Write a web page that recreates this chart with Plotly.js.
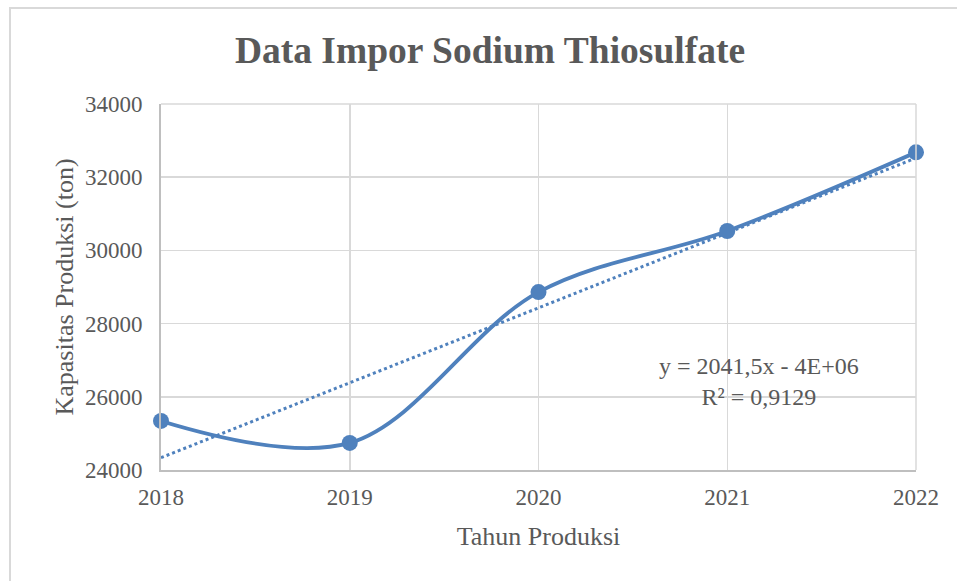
<!DOCTYPE html>
<html>
<head>
<meta charset="utf-8">
<script src="https://cdn.plot.ly/plotly-3.0.1.min.js"></script>
<style>
html,body{margin:0;padding:0;background:#fff;}
#wrap{position:relative;width:957px;height:581px;overflow:hidden;}
#chart{width:957px;height:581px;}
#frame{position:absolute;left:9px;top:7px;width:1000px;height:700px;border:2px solid #d9d9d9;pointer-events:none;box-sizing:border-box;}
</style>
</head>
<body>
<div id="wrap"><div id="chart"></div><div id="frame"></div></div>
<script>
const years = [2018, 2019, 2020, 2021, 2022];
const kapasitas = [25340, 24740, 28860, 30530, 32680];
const chartTitle = 'Data Impor Sodium Thiosulfate';
const xTitle = 'Tahun Produksi';
const yTitle = 'Kapasitas Produksi (ton)';
const eqText = 'y = 2041,5x - 4E+06<br>R² = 0,9129';

// linear trend from the data
const n = years.length;
const mx = years.reduce((a,b)=>a+b,0)/n;
const my = kapasitas.reduce((a,b)=>a+b,0)/n;
let sxy=0, sxx=0;
for (let i=0;i<n;i++){ sxy+=(years[i]-mx)*(kapasitas[i]-my); sxx+=(years[i]-mx)**2; }
const slope = sxy/sxx, icpt = my - slope*mx;
const trendX = [years[0], years[n-1]];
const trendY = trendX.map(x=>icpt+slope*x);

const blue = '#4f81bd';
const font = 'Liberation Serif, Times New Roman, serif';
const grey = '#595959';

const data = [
  {x: trendX, y: trendY, mode:'lines', line:{color:blue, width:3, dash:'dot'}, hoverinfo:'skip', cliponaxis:false},
  {x: years, y: kapasitas, mode:'lines+markers', line:{color:blue, width:3.8, shape:'spline', smoothing:1}, marker:{color:blue, size:16}, cliponaxis:false}
];

const layout = {
  width:957, height:581,
  margin:{l:161, r:41, t:104, b:111},
  paper_bgcolor:'rgba(0,0,0,0)', plot_bgcolor:'#fff',
  showlegend:false,
  font:{family:font, color:grey, size:23},
  title:{text:'<b>'+chartTitle+'</b>', font:{family:font, size:37.5, color:grey}, x:0.512, xanchor:'center', y:0.914, yanchor:'middle'},
  xaxis:{range:[2018,2022], tickvals:years, ticktext:years.map(String), showgrid:true, gridcolor:'#d9d9d9', gridwidth:1.5,
         showline:true, linecolor:'#bfbfbf', linewidth:2, zeroline:false, ticks:'outside', ticklen:5, tickcolor:'rgba(0,0,0,0)',
         tickfont:{size:23, color:grey},
         title:{text:xTitle, font:{size:26, color:grey}, standoff:18}},
  yaxis:{range:[24000,34000], dtick:2000, showgrid:true, gridcolor:'#d9d9d9', gridwidth:1.5,
         showline:true, linecolor:'#bfbfbf', linewidth:2, zeroline:false, ticks:'outside', ticklen:12, tickcolor:'rgba(0,0,0,0)', tickformat:'d',
         tickfont:{size:23, color:grey},
         title:{text:yTitle, font:{size:26, color:grey}, standoff:4}},
  shapes:[{type:'line', xref:'paper', yref:'paper', x0:1, x1:1, y0:0, y1:1, line:{color:'#d9d9d9', width:1.5}},
          {type:'line', xref:'paper', yref:'paper', x0:0, x1:1, y0:1, y1:1, line:{color:'#d9d9d9', width:1.5}}],
  annotations:[{text:eqText, x:2021.17, y:26420, xref:'x', yref:'y', showarrow:false, align:'center',
                font:{family:font, size:24, color:grey}}]
};
Plotly.newPlot('chart', data, layout, {staticPlot:true});
</script>
</body>
</html>
